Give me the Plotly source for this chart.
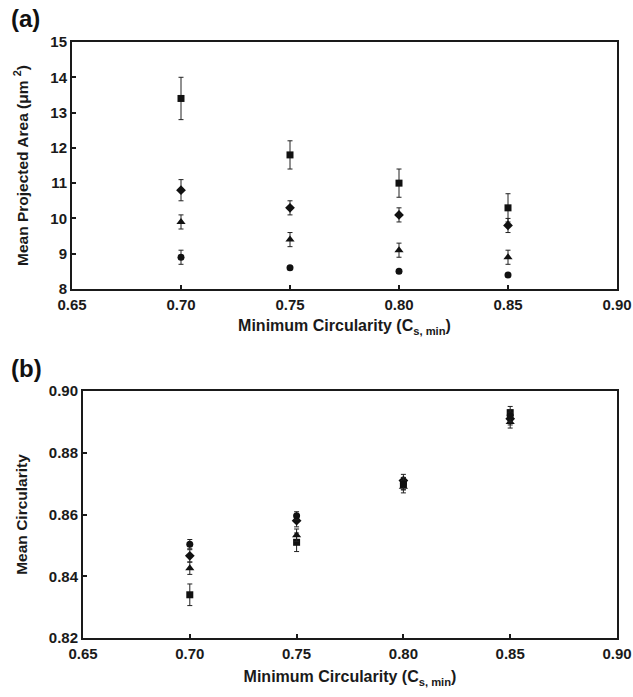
import plotly.graph_objects as go

x_vals = [0.70, 0.75, 0.80, 0.85]

# Panel (a): mean projected area (um^2)
area_square = [13.4, 11.8, 11.0, 10.3]
area_square_err = [0.6, 0.4, 0.4, 0.4]
area_diamond = [10.8, 10.3, 10.1, 9.8]
area_diamond_err = [0.3, 0.2, 0.2, 0.2]
area_triangle = [9.9, 9.4, 9.1, 8.9]
area_triangle_err = [0.2, 0.2, 0.2, 0.2]
area_circle = [8.9, 8.6, 8.5, 8.4]
area_circle_err = [0.2, 0.05, 0.05, 0.05]

# Panel (b): mean circularity
circ_square = [0.834, 0.851, 0.870, 0.893]
circ_square_err = [0.0035, 0.003, 0.002, 0.002]
circ_diamond = [0.8466, 0.858, 0.871, 0.891]
circ_diamond_err = [0.002, 0.002, 0.002, 0.002]
circ_triangle = [0.8426, 0.8533, 0.869, 0.890]
circ_triangle_err = [0.002, 0.002, 0.002, 0.002]
circ_circle = [0.8504, 0.8596, 0.870, 0.892]
circ_circle_err = [0.0015, 0.0013, 0.002, 0.002]

x_ticks = [0.65, 0.70, 0.75, 0.80, 0.85, 0.90]
x_ticklabels = ["0.65", "0.70", "0.75", "0.80", "0.85", "0.90"]
ya_ticks = [8, 9, 10, 11, 12, 13, 14, 15]
yb_ticks = [0.82, 0.84, 0.86, 0.88, 0.90]
yb_ticklabels = ["0.82", "0.84", "0.86", "0.88", "0.90"]

FONT = "Arial, 'Liberation Sans', sans-serif"
INK = "#111111"

fig = go.Figure()

def add_series(y, err, symbol, xa, ya, size=7):
    fig.add_trace(go.Scatter(
        x=x_vals, y=y, mode="markers",
        marker=dict(symbol=symbol, size=size, color=INK),
        error_y=dict(type="data", array=err, visible=True, color="#222222", thickness=1, width=2.5),
        xaxis=xa, yaxis=ya, showlegend=False,
    ))

add_series(area_square, area_square_err, "square", "x", "y")
add_series(area_diamond, area_diamond_err, "diamond", "x", "y", 7.5)
add_series(area_triangle, area_triangle_err, "triangle-up", "x", "y", 8)
add_series(area_circle, area_circle_err, "circle", "x", "y")

add_series(circ_square, circ_square_err, "square", "x2", "y2")
add_series(circ_diamond, circ_diamond_err, "diamond", "x2", "y2", 7.5)
add_series(circ_triangle, circ_triangle_err, "triangle-up", "x2", "y2", 8)
add_series(circ_circle, circ_circle_err, "circle", "x2", "y2")

tickfont = dict(family=FONT, size=15, color="#1a1a1a", weight="bold")
xtitlefont = dict(family=FONT, size=16, color="#1a1a1a", weight="bold")
ytitlefont = dict(family=FONT, size=15.5, color="#1a1a1a", weight="bold")

axis_common = dict(
    showline=True, linecolor="#1a1a1a", linewidth=2, mirror=True,
    ticks="inside", ticklen=4, tickwidth=1.5, tickcolor="#1a1a1a",
    showgrid=False, zeroline=False, tickfont=tickfont, automargin=False,
)

W, H = 633, 697
def px_x(p): return p / W
def px_y(p): return 1 - p / H

fig.update_layout(
    width=W, height=H,
    margin=dict(l=0, r=0, t=0, b=0),
    paper_bgcolor="white", plot_bgcolor="white",
    xaxis=dict(domain=[px_x(72), px_x(617)], range=[0.65, 0.90], anchor="y",
               tickvals=x_ticks, ticktext=x_ticklabels, ticklabelstandoff=1,
               title=dict(text="Minimum Circularity (C<sub>s, min</sub>)", font=xtitlefont, standoff=8),
               **axis_common),
    yaxis=dict(domain=[px_y(289), px_y(42)], range=[8, 15], anchor="x",
               tickvals=ya_ticks,
               title=dict(text="Mean Projected Area (μm <sup>2</sup>)", font=ytitlefont, standoff=18),
               **axis_common),
    xaxis2=dict(domain=[px_x(83), px_x(617)], range=[0.65, 0.90], anchor="y2",
                tickvals=x_ticks, ticktext=x_ticklabels, ticklabelstandoff=1,
                title=dict(text="Minimum Circularity (C<sub>s, min</sub>)", font=xtitlefont, standoff=10),
                **axis_common),
    yaxis2=dict(domain=[px_y(638), px_y(391)], range=[0.82, 0.90], anchor="x2",
                tickvals=yb_ticks, ticktext=yb_ticklabels,
                title=dict(text="Mean Circularity", font=ytitlefont, standoff=17),
                **axis_common),
    annotations=[
        dict(text="(a)", x=px_x(9), y=px_y(3), xref="paper", yref="paper",
             xanchor="left", yanchor="top", showarrow=False,
             font=dict(family=FONT, size=24, color="#111111", weight="bold")),
        dict(text="(b)", x=px_x(9), y=px_y(353), xref="paper", yref="paper",
             xanchor="left", yanchor="top", showarrow=False,
             font=dict(family=FONT, size=24, color="#111111", weight="bold")),
    ],
)

fig.write_html("out.html")
